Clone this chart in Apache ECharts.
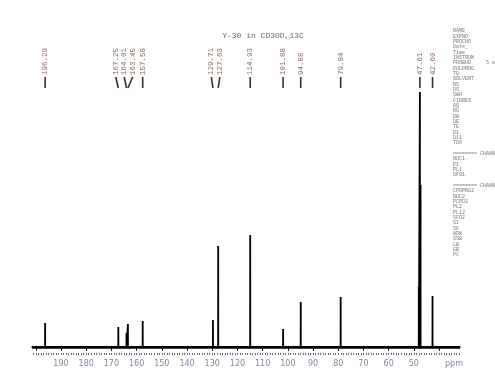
<!DOCTYPE html>
<html><head><meta charset="utf-8">
<script src="https://cdn.jsdelivr.net/npm/echarts@6/dist/echarts.min.js"></script>
<style>html,body{margin:0;padding:0;background:#fff}#c{width:495px;height:379px}</style>
</head><body><div id="c"></div>
<script>
// ---- data ----
const peakPpm    = [196.29, 167.25, 164.01, 163.45, 157.58, 129.71, 127.63, 114.93, 101.88, 94.88, 79.04, 48.05, 47.61, 47.35, 42.60];
const peakHeight = [24,     20,     14,     23,     26,     27,     101,    112,    18,     45,    50,    60,    255,   162,   51];
const labelPpm   = [196.29, 167.25, 164.01, 163.45, 157.58, 129.71, 127.63, 114.93, 101.88, 94.88, 79.04, 47.61, 42.60];
const labelText  = ["196.29","167.25","164.01","163.45","157.58","129.71","127.63","114.93","101.88","94.88","79.04","47.61","42.60"];
const majorTicks = [200,190,180,170,160,150,140,130,120,110,100,90,80,70,60,50,40];
const tickLabels = [190,180,170,160,150,140,130,120,110,100,90,80,70,60,50];
const ppmMin = 31.7, ppmMax = 201.5;
const minorTicks = []; for (let v = 32; v <= 201; v++) minorTicks.push(v);
const titleText = "Y-30 in CD3OD,13C";
const paramRows = ["NAME","EXPNO","PROCNO","Date_","Time","INSTRUM","PROBHD     5 mm","PULPROG","TD","SOLVENT","NS","DS","SWH","FIDRES","AQ","RG","DW","DE","TE","D1","D11","TD0","","======== CHANNEL f1","NUC1","P1","PL1","SFO1             1","","======== CHANNEL f2","CPDPRG2","NUC2","PCPD2","PL2","PL12","SFO2             6","SI","SF               1","WDW","SSB","LB","GB","PC"];

// ---- spectrum trace built from peaks ----
const order = peakPpm.map((p,i)=>i).sort((a,b)=>peakPpm[b]-peakPpm[a]);
const trace = [[ppmMax,0]];
order.forEach(i=>{ const p=peakPpm[i]; trace.push([p+0.02,0],[p,peakHeight[i]],[p-0.02,0]); });
trace.push([ppmMin,0]);

const chart = echarts.init(document.getElementById('c'));
const axisBase = {type:'value', inverse:true, min:ppmMin, max:ppmMax, position:'bottom', offset:4,
  splitLine:{show:false}, gridIndex:0};
chart.setOption({
  animation:false,
  backgroundColor:'#fff',
  grid:{left:32, right:35, top:90, bottom:30},
  xAxis:[
    Object.assign({}, axisBase, {
      axisLine:{lineStyle:{color:'#111', width:1.5}},
      axisTick:{show:true, length:4, customValues:majorTicks, lineStyle:{color:'#222'}},
      axisLabel:{show:true, customValues:tickLabels, margin:7, fontSize:8, color:'#7a88a8', fontFamily:'DejaVu Sans'}
    }),
    Object.assign({}, axisBase, {
      axisLine:{show:false},
      axisTick:{show:true, length:2, customValues:minorTicks, lineStyle:{color:'#444', width:0.8}},
      axisLabel:{show:false}
    })
  ],
  yAxis:{type:'value', min:-2, max:257, show:false},
  series:[{type:'line', data:trace, symbol:'none', xAxisIndex:0,
    lineStyle:{color:'#000', width:1.8}, silent:true,
    markLine:{silent:true, symbol:'none', label:{show:false}, lineStyle:{color:'#000', width:2.6, type:'solid'},
      data:[[{coord:[ppmMax,0]},{coord:[ppmMin,0]}]]}}]
});

// ---- peak labels with de-overlap ----
const px = labelPpm.map(p=>chart.convertToPixel({xAxisIndex:0}, p));
const minGap = 8.5;
let groups = px.map((x,i)=>({idx:[i], pos:[x]}));
groups.sort((a,b)=>a.pos[0]-b.pos[0]);
function center(g){ return g.idx.reduce((s,i)=>s+px[i],0)/g.idx.length; }
function layout(g){ const c=center(g), n=g.idx.length; g.pos=g.idx.map((_,k)=>c+(k-(n-1)/2)*minGap); }
let changed=true;
while(changed){
  changed=false;
  for(let k=0;k<groups.length-1;k++){
    const a=groups[k], b=groups[k+1];
    if(b.pos[0]-a.pos[a.pos.length-1] < minGap){
      const g={idx:a.idx.concat(b.idx).sort((u,v)=>px[u]-px[v]), pos:[]};
      layout(g); groups.splice(k,2,g); changed=true; break;
    }
  }
}
const lx=[]; groups.forEach(g=>g.idx.forEach((i,k)=>lx[i]=g.pos[k]));

const graphics=[];
labelPpm.forEach((p,i)=>{
  graphics.push({type:'text', x:lx[i], y:75, rotation:Math.PI/2,
    style:{text:labelText[i], fontSize:7.5, fontFamily:'Liberation Mono', fill:'#8a6a5e', align:'left', verticalAlign:'middle'}});
  graphics.push({type:'line', shape:{x1:lx[i], y1:77, x2:px[i], y2:88}, style:{stroke:'#333', lineWidth:1.6}});
});
graphics.push({type:'text', x:263, y:36, style:{text:titleText, fontSize:8, fontFamily:'Liberation Mono', fill:'#666', align:'center', verticalAlign:'middle'}});
graphics.push({type:'text', x:445, y:364, style:{text:'ppm', fontSize:8, fontFamily:'DejaVu Sans', fill:'#7a88a8', align:'left', verticalAlign:'middle'}});
paramRows.forEach((t,i)=>{
  if(!t) return;
  graphics.push({type:'text', x:453, y:31+i*5.33, style:{text:t, fontSize:5, fontFamily:'Liberation Mono', fill:'#777', align:'left', verticalAlign:'middle'}});
});
chart.setOption({graphic:graphics});
</script>
</body></html>
